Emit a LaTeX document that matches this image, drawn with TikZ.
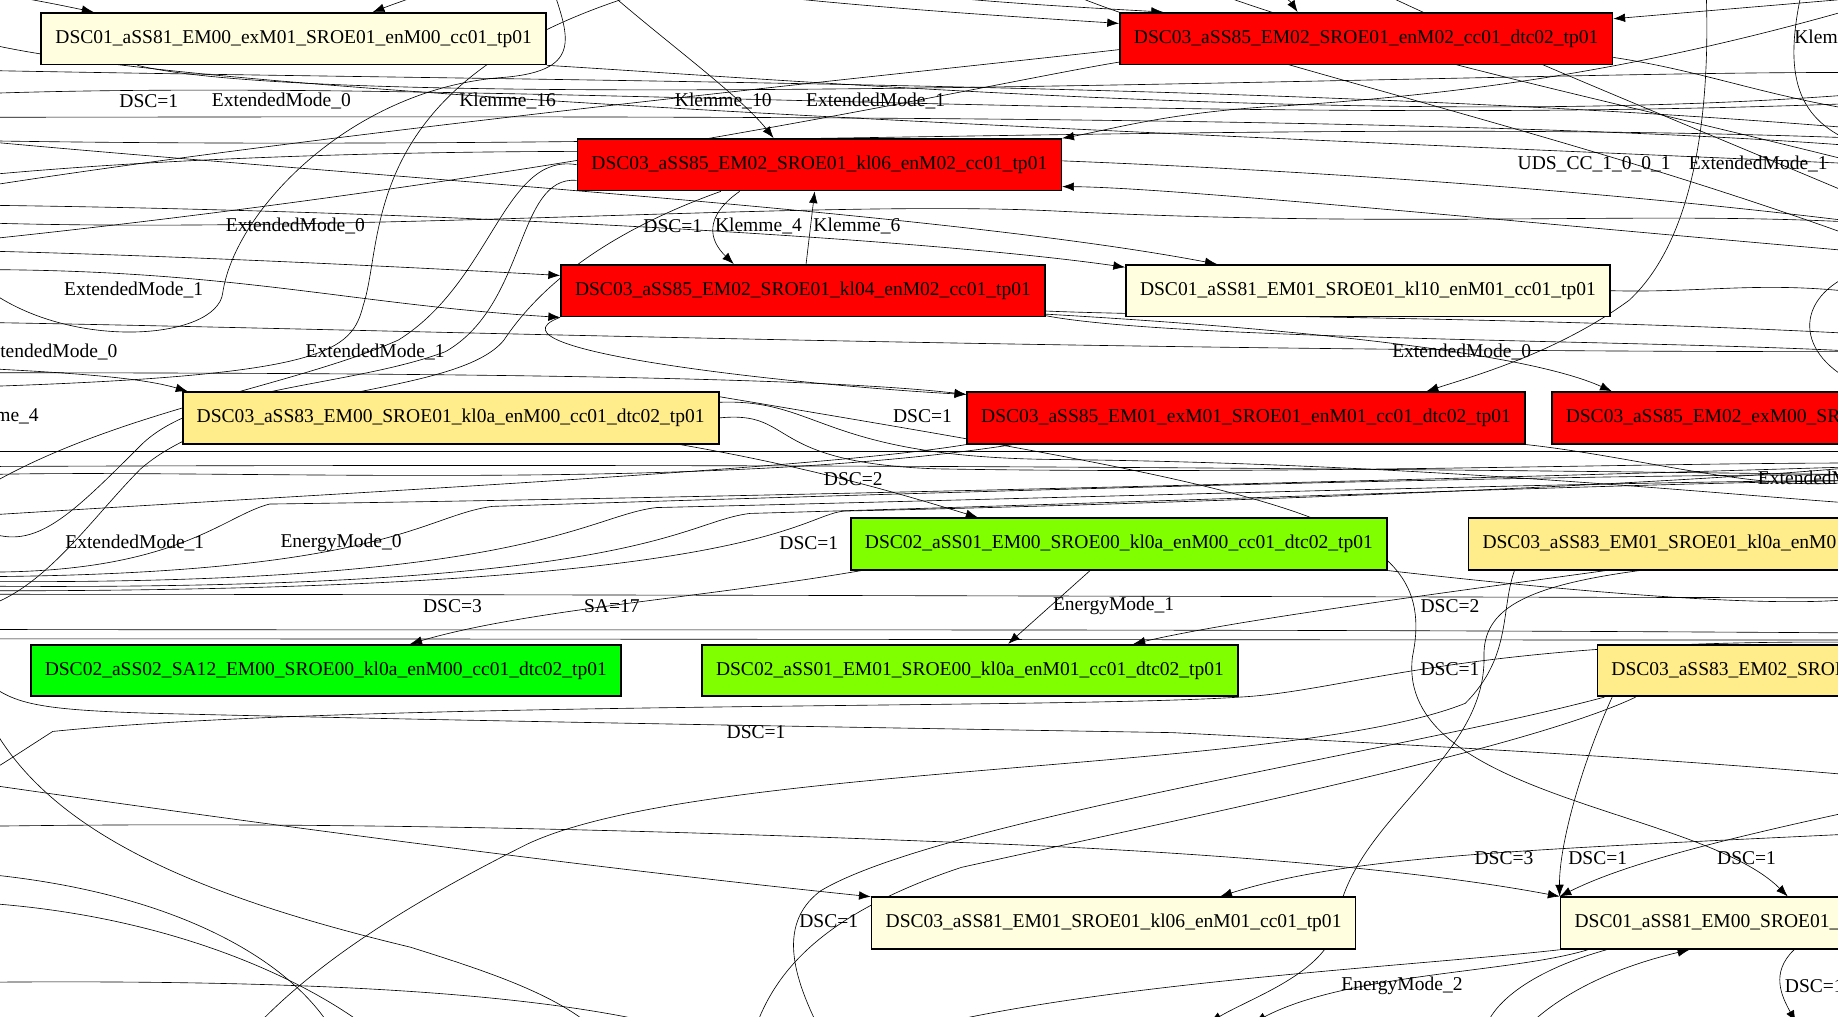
\documentclass[tikz,border=0pt]{standalone}
\usepackage{fontspec}
\setmainfont{Liberation Serif}
\usetikzlibrary{arrows.meta,positioning,backgrounds}

\definecolor{dscred}{HTML}{FF0000}
\definecolor{dsclight}{HTML}{FFFFE0}
\definecolor{dscgold}{HTML}{FFEC8B}
\definecolor{dscchart}{HTML}{7FFF00}
\definecolor{dscgreen}{HTML}{00FF00}

\tikzset{
  box/.style={rectangle,draw,line width=1.1pt,font=\fontsize{12.5}{15}\selectfont,inner xsep=9pt,inner ysep=2pt,minimum height=33pt},
  redbox/.style={box,fill=dscred},
  lightbox/.style={box,fill=dsclight},
  goldbox/.style={box,fill=dscgold},
  chartbox/.style={box,fill=dscchart},
  greenbox/.style={box,fill=dscgreen},
  lbl/.style={font=\fontsize{12.5}{15}\selectfont,inner sep=0pt}
}

\begin{document}
\begin{tikzpicture}[->,>={Latex[length=7.5pt,width=5.5pt]},x=0.75pt,y=-0.75pt,line width=1.05pt]
\useasboundingbox (0,0) rectangle (1568,867);

% states
\node [lightbox] (dsc01em00ex)  at (250.5,33)  {DSC01\_aSS81\_EM00\_exM01\_SROE01\_enM00\_cc01\_tp01};
\node [redbox]   (dsc03em02dtc) at (1165.5,33) {DSC03\_aSS85\_EM02\_SROE01\_enM02\_cc01\_dtc02\_tp01};
\node [redbox]   (dsc03kl06)    at (699,140.5) {DSC03\_aSS85\_EM02\_SROE01\_kl06\_enM02\_cc01\_tp01};
\node [redbox]   (dsc03kl04)    at (685,248)   {DSC03\_aSS85\_EM02\_SROE01\_kl04\_enM02\_cc01\_tp01};
\node [lightbox] (dsc01kl10)    at (1167,248)  {DSC01\_aSS81\_EM01\_SROE01\_kl10\_enM01\_cc01\_tp01};
\node [goldbox]  (dsc03s83em00) at (384.5,356.5) {DSC03\_aSS83\_EM00\_SROE01\_kl0a\_enM00\_cc01\_dtc02\_tp01};
\node [redbox]   (dsc03em01ex)  at (1063,356.5)  {DSC03\_aSS85\_EM01\_exM01\_SROE01\_enM01\_cc01\_dtc02\_tp01};
\node [redbox,anchor=west] (dsc03em02ex) at (1323,356.5) {DSC03\_aSS85\_EM02\_exM00\_SROE01\_enM02\_cc01\_dtc02\_tp01};
\node [chartbox] (dsc02em00)    at (954.5,464) {DSC02\_aSS01\_EM00\_SROE00\_kl0a\_enM00\_cc01\_dtc02\_tp01};
\node [goldbox,anchor=west] (dsc03s83em01) at (1252,464) {DSC03\_aSS83\_EM01\_SROE01\_kl0a\_enM01\_cc01\_dtc02\_tp01};
\node [greenbox] (dsc02sa12)    at (278,572)   {DSC02\_aSS02\_SA12\_EM00\_SROE00\_kl0a\_enM00\_cc01\_dtc02\_tp01};
\node [chartbox] (dsc02em01)    at (827.5,572) {DSC02\_aSS01\_EM01\_SROE00\_kl0a\_enM01\_cc01\_dtc02\_tp01};
\node [goldbox,anchor=west] (dsc03s83em02) at (1362,572) {DSC03\_aSS83\_EM02\_SROE01\_kl0a\_enM02\_cc01\_dtc02\_tp01};
\node [lightbox] (dsc03s81kl06) at (950,787.5) {DSC03\_aSS81\_EM01\_SROE01\_kl06\_enM01\_cc01\_tp01};
\node [lightbox,anchor=west] (dsc01em00) at (1330.5,787.5) {DSC01\_aSS81\_EM00\_SROE01\_kl0a\_enM00\_cc01\_tp01};

% loose ends outside the page
\coordinate (lf1) at (-20,-8);   \coordinate (lf2) at (-20,240);  \coordinate (lf3) at (-20,60);
\coordinate (lf4) at (-20,100);  \coordinate (lf5) at (-20,120);  \coordinate (lf6) at (-20,160);
\coordinate (lf7) at (-20,205);  \coordinate (lf8) at (-20,175);  \coordinate (lf9) at (-20,150);
\coordinate (lf10) at (-20,214); \coordinate (lf11) at (-20,330); \coordinate (lf12) at (-20,314);
\coordinate (lf13) at (-20,318); \coordinate (lf14) at (-20,420); \coordinate (lf15) at (-20,450);
\coordinate (lf16) at (-20,520); \coordinate (lf17) at (-20,385); \coordinate (lf18) at (-20,488);
\coordinate (lf19) at (-20,492); \coordinate (lf20) at (-20,496); \coordinate (lf21) at (-20,500);
\coordinate (lf22) at (-20,504); \coordinate (lf23) at (-20,507); \coordinate (lf24) at (-20,537);
\coordinate (lf25) at (-20,545); \coordinate (lf26) at (-20,575); \coordinate (lf27) at (-20,665);
\coordinate (lf28) at (-20,668); \coordinate (lf29) at (-20,590); \coordinate (lf30) at (-20,705);
\coordinate (lf31) at (-20,838); \coordinate (lf32) at (-20,745); \coordinate (lf33) at (-20,770);
\coordinate (lf34) at (-20,405); \coordinate (lf35) at (-20,440); \coordinate (lf36) at (-20,275);
\coordinate (lf37) at (-20,398); \coordinate (lf38) at (-20,80);  \coordinate (lf39) at (-20,190);
\coordinate (lf40) at (-20,230); \coordinate (lf41) at (-20,35);
\coordinate (rt1) at (1590,-2);  \coordinate (rt2) at (1590,5);   \coordinate (rt3) at (1590,95);
\coordinate (rt4) at (1590,110); \coordinate (rt5) at (1590,125); \coordinate (rt6) at (1590,140);
\coordinate (rt7) at (1590,215); \coordinate (rt8) at (1590,170); \coordinate (rt9) at (1590,62);
\coordinate (rt10) at (1590,250); \coordinate (rt11) at (1590,118); \coordinate (rt12) at (1590,285);
\coordinate (rt13) at (1590,300); \coordinate (rt14) at (1590,230); \coordinate (rt15) at (1590,330);
\coordinate (rt16) at (1590,395); \coordinate (rt17) at (1590,398); \coordinate (rt18) at (1590,405);
\coordinate (rt19) at (1590,410); \coordinate (rt20) at (1590,510); \coordinate (rt21) at (1590,540);
\coordinate (rt22) at (1590,546); \coordinate (rt23) at (1590,662); \coordinate (rt24) at (1590,711);
\coordinate (rt25) at (1590,690); \coordinate (rt26) at (1590,548); \coordinate (rt27) at (1590,430);
\coordinate (rt28) at (1590,385); \coordinate (rt29) at (1590,80);  \coordinate (rt30) at (1590,190);
\coordinate (rt31) at (1590,205); \coordinate (rt32) at (1590,88);
\coordinate (tp1) at (400,-20);  \coordinate (tp2) at (468,-20);  \coordinate (tp3) at (700,-15);
\coordinate (tp4) at (560,-15);  \coordinate (tp5) at (1080,-20); \coordinate (tp6) at (510,-15);
\coordinate (tp7) at (600,-20);  \coordinate (tp8) at (1455,-20); \coordinate (tp9) at (1540,-20);
\coordinate (tp10) at (1000,-20); \coordinate (tp11) at (1150,-20); \coordinate (tp12) at (880,-20);
\coordinate (bt1) at (1032,872); \coordinate (bt2) at (520,890);  \coordinate (bt3) at (205,890);
\coordinate (bt4) at (640,890);  \coordinate (bt5) at (1290,890); \coordinate (bt6) at (1532,872);
\coordinate (bt7) at (740,890);  \coordinate (bt8) at (1070,872); \coordinate (bt9) at (1265,890);
\coordinate (bt10) at (705,890); \coordinate (bt11) at (620,890); \coordinate (bt12) at (290,890);
\coordinate (bt13) at (330,890);

% edge labels
\node [lbl] (lb1)  at (127,86)   {DSC=1};
\node [lbl] (lb2)  at (240,86)   {ExtendedMode\_0};
\node [lbl] (lb3)  at (433,86)   {Klemme\_16};
\node [lbl] (lb4)  at (617,86)   {Klemme\_10};
\node [lbl] (lb5)  at (747,86)   {ExtendedMode\_1};
\node [lbl,anchor=west] (lb6) at (1530,32) {Klemme\_1};
\node [lbl] (lb7)  at (1360,140) {UDS\_CC\_1\_0\_0\_1};
\node [lbl] (lb8)  at (1500,140) {ExtendedMode\_1};
\node [lbl] (lb9)  at (252,193)  {ExtendedMode\_0};
\node [lbl] (lb10) at (574,193)  {DSC=1};
\node [lbl] (lb11) at (647,193)  {Klemme\_4};
\node [lbl] (lb12) at (731,193)  {Klemme\_6};
\node [lbl] (lb13) at (114,247)  {ExtendedMode\_1};
\node [lbl] (lb14) at (41,300)   {ExtendedMode\_0};
\node [lbl] (lb15) at (320,300)  {ExtendedMode\_1};
\node [lbl] (lb16) at (1247,300) {ExtendedMode\_0};
\node [lbl] (lb17) at (-4,355)   {Klemme\_4};
\node [lbl] (lb18) at (787,355)  {DSC=1};
\node [lbl] (lb19) at (728,409)  {DSC=2};
\node [lbl,anchor=west] (lb20) at (1499,409) {ExtendedMode\_1};
\node [lbl] (lb21) at (115,463)  {ExtendedMode\_1};
\node [lbl] (lb22) at (291,463)  {EnergyMode\_0};
\node [lbl] (lb23) at (690,463)  {DSC=1};
\node [lbl] (lb24) at (386,517)  {DSC=3};
\node [lbl] (lb25) at (522,517)  {SA=17};
\node [lbl] (lb26) at (950,517)  {EnergyMode\_1};
\node [lbl] (lb27) at (1237,517) {DSC=2};
\node [lbl] (lb28) at (1237,571) {DSC=1};
\node [lbl] (lb29) at (645,625)  {DSC=1};
\node [lbl] (lb30) at (1283,732) {DSC=3};
\node [lbl] (lb31) at (1363,732) {DSC=1};
\node [lbl] (lb32) at (1490,732) {DSC=1};
\node [lbl] (lb33) at (707,786)  {DSC=1};
\node [lbl] (lb34) at (1196,841) {EnergyMode\_2};
\node [lbl,anchor=west] (lb35) at (1522,841) {DSC=1};

\begin{scope}[on background layer]
% top band
\draw (lf1) .. controls (20,-2) and (45,3) .. ([xshift=-128pt]dsc01em00ex.north);
\draw (tp1) .. controls (370,-8) and (345,0) .. ([xshift=50.6pt]dsc01em00ex.north);
\draw (tp2) .. controls (485,30) and (500,60) .. (430,66) .. controls (300,75) and (200,180) .. (190,250) .. controls (185,290) and (60,300) .. (lf2);
\draw (tp3) .. controls (800,0) and (900,5) .. ([xshift=-130pt]dsc03em02dtc.north);
\draw (tp4) .. controls (700,5) and (880,15) .. ([yshift=9.75pt]dsc03em02dtc.west);
\draw (tp5) .. controls (1090,-5) and (1100,0) .. ([xshift=-43.9pt]dsc03em02dtc.north);
\draw (rt1) -- ([yshift=12.75pt]dsc03em02dtc.east);
\draw ([yshift=-7pt]dsc03em02dtc.west) .. controls (800,60) and (300,110) .. (lf6);
\draw ([yshift=-15pt]dsc03em02dtc.west) .. controls (850,70) and (500,150) .. (lf7);
\draw ([yshift=-12pt]dsc03em02dtc.east) .. controls (1450,60) and (1500,80) .. (rt3);
\draw (tp10) .. controls (1150,40) and (1350,80) .. (rt6);
\draw (tp11) .. controls (1250,30) and (1400,90) .. (rt8);
\draw (tp12) .. controls (1000,40) and (1300,100) .. (rt31);
\draw (rt2) .. controls (1400,60) and (1250,80) .. (1100,90) .. controls (1000,95) and (950,110) .. ([yshift=16.9pt]dsc03kl06.east);
\draw (rt7) .. controls (1300,190) and (1000,160) .. ([yshift=-14pt]dsc03kl06.east);
\draw (lf3) .. controls (500,70) and (1100,70) .. (rt4);
\draw (lf4) .. controls (400,100) and (1200,95) .. (rt5);
\draw (lf5) .. controls (600,130) and (1100,100) .. (rt11);
\draw (lf38) .. controls (400,65) and (1000,110) .. (rt32);
\draw (lf41) .. controls (150,80) and (900,110) .. (rt6);
\draw (dsc01em00ex.south east) .. controls (700,70) and (1200,110) .. (rt29);
\draw ([xshift=-100pt]dsc01em00ex.south) .. controls (300,100) and (1300,60) .. (rt9);
\draw (lf9) .. controls (400,110) and (1100,130) .. (rt30);
\draw (tp6) .. controls (560,30) and (630,80) .. ([xshift=-29.3pt]dsc03kl06.north);
\draw (tp7) .. controls (300,50) and (330,200) .. (310,260) .. controls (300,300) and (280,320) .. (lf11);
\draw (tp8) .. controls (1460,80) and (1450,200) .. (1390,256) .. controls (1330,300) and (1260,320) .. ([xshift=115.5pt]dsc03em01ex.north);
\draw (tp9) .. controls (1520,60) and (1530,100) .. (rt5);
\draw (rt14) .. controls (1530,250) and (1530,300) .. (rt15);
% around the kl06 and kl04 states
\draw ([xshift=-51pt]dsc03kl06.south) .. controls (600,185) and (605,205) .. ([xshift=-44.25pt]dsc03kl04.north);
\draw ([xshift=2pt]dsc03kl04.north) -- ([xshift=-3pt]dsc03kl06.south);
\draw ([xshift=-63pt]dsc03kl06.south) .. controls (540,190) and (470,230) .. (430,290) .. controls (390,340) and (200,330) .. (120,400) .. controls (80,440) and (40,500) .. (lf16);
\draw ([yshift=-10pt]dsc03kl06.west) .. controls (440,150) and (450,260) .. (380,300) .. controls (300,330) and (170,330) .. (120,380) .. controls (60,440) and (30,470) .. (lf15);
\draw (dsc03kl06.west) .. controls (430,130) and (420,240) .. (340,290) .. controls (250,330) and (100,350) .. (lf14);
\draw (lf10) .. controls (150,218) and (350,228) .. ([yshift=9.75pt]dsc03kl04.west);
\draw (lf39) .. controls (300,200) and (700,170) .. (900,180) .. controls (1200,195) and (1400,180) .. (rt30);
\draw (lf40) .. controls (200,230) and (300,260) .. (dsc03kl04.south west);
\draw (lf8) .. controls (400,180) and (800,205) .. ([yshift=15pt]dsc01kl10.west);
\draw (lf5) .. controls (300,150) and (800,180) .. ([xshift=-96.75pt]dsc01kl10.north);
\draw (dsc01kl10.east) .. controls (1450,250) and (1500,240) .. (rt10);
\draw ([yshift=-15pt]dsc03kl04.east) .. controls (1100,280) and (1300,300) .. ([xshift=39pt]dsc03em02ex.north west);
\draw ([yshift=-13pt]dsc03kl04.east) .. controls (1000,270) and (1300,270) .. (rt12);
\draw ([yshift=-16pt]dsc03kl04.east) .. controls (1000,290) and (1400,290) .. (rt13);
\draw (lf36) .. controls (300,280) and (900,300) .. (rt13);
% middle band
\draw (lf12) .. controls (60,318) and (120,322) .. ([xshift=-168.4pt]dsc03s83em00.north);
\draw (lf13) .. controls (400,318) and (700,322) .. ([yshift=15pt]dsc03em01ex.west);
\draw (dsc03kl04.south west) .. controls (400,300) and (700,330) .. ([yshift=15pt]dsc03em01ex.west);
\draw ([xshift=146.6pt]dsc03s83em00.south) .. controls (700,400) and (780,425) .. ([xshift=-90.4pt]dsc02em00.north);
\draw (dsc03em01ex.south west) .. controls (700,400) and (300,420) .. (lf35);
\draw ([xshift=30pt]dsc03em01ex.south west) .. controls (600,420) and (200,400) .. (lf34);
\draw (dsc03s83em00.east) .. controls (680,350) and (650,395) .. (800,400) .. controls (1100,405) and (1400,395) .. (rt16);
\draw ([yshift=10pt]dsc03s83em00.east) .. controls (700,340) and (700,390) .. (900,392) .. controls (1200,395) and (1450,420) .. (rt27);
\draw (dsc03em01ex.south east) .. controls (1400,390) and (1500,420) .. (rt19);
\draw (lf17) .. controls (500,385) and (1100,385) .. (rt28);
\draw (lf37) .. controls (700,395) and (1200,400) .. (rt18);
\draw ([xshift=-21pt]dsc03s83em00.north east) .. controls (1100,420) and (1230,440) .. (1205,560) .. controls (1190,680) and (1450,690) .. ([xshift=146pt]dsc01em00.north west);
\draw (lf18) .. controls (150,490) and (190,440) .. (230,430) .. controls (600,425) and (1200,410) .. (rt17);
\draw (lf19) .. controls (330,490) and (360,440) .. (420,432) .. controls (800,420) and (1300,405) .. (rt18);
\draw (lf20) .. controls (450,500) and (500,440) .. (560,433) .. controls (900,425) and (1400,410) .. (rt19);
\draw (lf21) .. controls (550,505) and (580,445) .. (640,438) .. controls (1000,428) and (1400,412) .. (rt19);
\draw (lf22) .. controls (650,505) and (680,440) .. (720,436) .. controls (1000,430) and (1400,415) .. (rt17);
\draw ([xshift=-164.6pt]dsc02em00.south) .. controls (600,510) and (450,520) .. ([xshift=54pt]dsc02sa12.north);
\draw ([xshift=-18.4pt]dsc02em00.south) -- ([xshift=24.4pt]dsc02em01.north);
\draw ([xshift=88.5pt]dsc03s83em01.south west) .. controls (1200,510) and (1050,530) .. ([xshift=104.6pt]dsc02em01.north);
\draw ([xshift=110pt]dsc03s83em01.south west) .. controls (1300,500) and (1265,520) .. (1266,560) .. controls (1268,650) and (1150,700) .. (1140,790) .. controls (1130,830) and (1070,850) .. (bt1);
\draw (lf23) .. controls (500,507) and (1000,509) .. (rt20);
\draw (lf24) .. controls (500,538) and (1000,536) .. (rt21);
\draw (lf25) .. controls (500,545) and (1000,546) .. (rt22);
\draw (dsc02em00.south east) .. controls (1300,500) and (1500,520) .. (rt20);
% lower part
\draw (lf26) .. controls (10,600) and (20,606) .. (150,609) .. controls (400,615) and (700,620) .. (1000,625) .. controls (1300,640) and (1450,650) .. (rt23);
\draw (dsc02em01.south east) .. controls (900,605) and (300,598) .. (45,624) .. controls (20,640) and (5,650) .. (lf27);
\draw (lf28) .. controls (200,700) and (500,740) .. ([yshift=16.9pt]dsc03s81kl06.west);
\draw (lf29) .. controls (20,700) and (150,760) .. (350,808) .. controls (420,830) and (480,850) .. (bt2);
\draw ([xshift=30pt]dsc03s83em01.south west) .. controls (1280,520) and (1290,560) .. (1250,600) .. controls (1100,660) and (600,650) .. (450,720) .. controls (330,780) and (260,830) .. (bt3);
\draw ([xshift=25pt]dsc03s83em02.south west) .. controls (1300,640) and (1000,700) .. (820,740) .. controls (700,780) and (660,830) .. (bt4);
\draw (rt24) .. controls (1300,725) and (1150,730) .. ([xshift=68.25pt]dsc03s81kl06.north);
\draw (rt25) .. controls (1450,720) and (1380,740) .. (dsc01em00.north west);
\draw (lf30) .. controls (300,700) and (600,710) .. (800,718) .. controls (1000,725) and (1200,740) .. (dsc01em00.north west);
\draw ([xshift=10pt]dsc03s83em02.south west) .. controls (1350,650) and (1330,720) .. (dsc01em00.north west);
\draw (bt5) .. controls (1330,840) and (1400,820) .. ([xshift=83pt]dsc01em00.south west);
\draw ([xshift=150pt]dsc01em00.south west) .. controls (1510,830) and (1520,850) .. (bt6);
\draw (dsc01em00.south west) .. controls (1200,825) and (900,840) .. (bt7);
\draw ([xshift=18pt]dsc01em00.south west) .. controls (1290,830) and (1150,830) .. (bt8);
\draw ([xshift=30pt]dsc01em00.south west) .. controls (1300,830) and (1270,860) .. (bt9);
\draw ([xshift=5pt]dsc03s83em02.south west) .. controls (1200,640) and (800,700) .. (700,760) .. controls (660,790) and (680,840) .. (bt10);
\draw (dsc02em01.south east) .. controls (1150,590) and (1250,545) .. (rt26);
\draw (lf31) .. controls (300,835) and (500,850) .. (bt11);
\draw (lf32) .. controls (150,760) and (250,820) .. (bt12);
\draw (lf33) .. controls (150,780) and (270,840) .. (bt13);
\end{scope}
\end{tikzpicture}
\end{document}
